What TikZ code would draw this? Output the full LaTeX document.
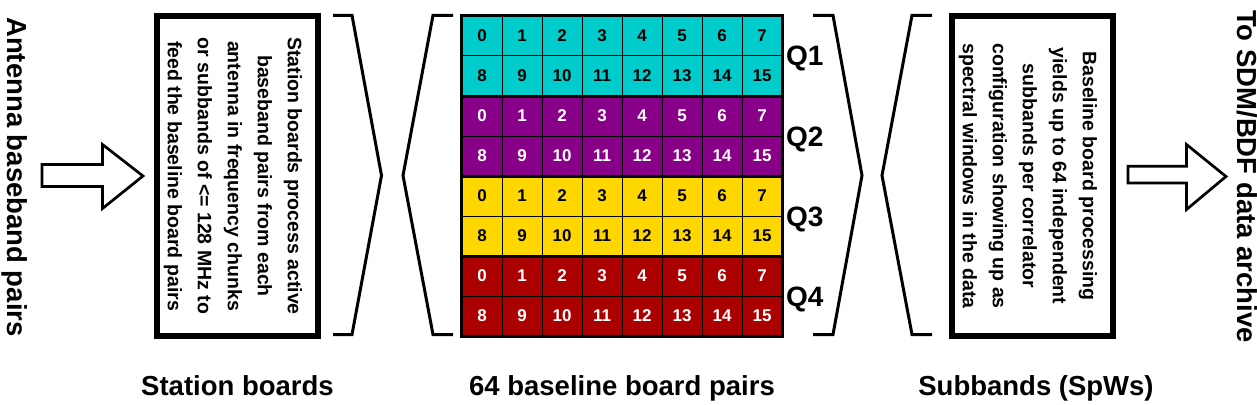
\documentclass[tikz,border=0pt]{standalone}
\usepackage{fontspec}
\setmainfont{Liberation Sans}
\definecolor{qcyan}{HTML}{00CCCC}
\definecolor{qpurple}{HTML}{880088}
\definecolor{qyellow}{HTML}{FFD700}
\definecolor{qred}{HTML}{AA0000}
\tikzset{
  cell/.style={draw=black, line width=1pt, minimum size=40pt, inner sep=0pt,
    font=\fontsize{17pt}{20pt}\selectfont\bfseries},
  brk/.style={draw=black, line width=3pt},
  blockarrow/.style={draw=black, line width=2.7pt, fill=white},
  biglabel/.style={inner sep=0pt, font=\fontsize{27.5pt}{32pt}\selectfont\bfseries},
  qlabel/.style={inner sep=0pt, font=\fontsize{28pt}{32pt}\selectfont\bfseries},
  boxtext/.style={inner sep=0pt, align=center, font=\fontsize{19.5pt}{30pt}\selectfont\bfseries},
  infobox/.style={draw=black, line width=6pt, minimum width=161pt, minimum height=320pt, inner sep=0pt},
  thick line/.style={draw=black, line width=3.5pt}
}
\begin{document}
\begin{tikzpicture}[x=1pt,y=-1pt]
\fill[white] (0,0) rectangle (1257,404);
\useasboundingbox (0,0) rectangle (1257,404);

% side labels
\node[biglabel, rotate=-90, anchor=base] (ant) at (7,177) {Antenna baseband pairs};
\node[biglabel, rotate=-90, anchor=base] (sdm) at (1237,176.5) {To SDM/BDF data archive};

% input arrow
\draw[blockarrow] (42,164.5) -- (102.5,164.5) -- (102.5,144.5) -- (143,176)
  -- (102.5,208.5) -- (102.5,186.5) -- (42,186.5) -- cycle;

% station box
\node[infobox] (sb) at (237.5,176) {};
\node[boxtext, rotate=-90] (sbt) at (233,176) {Station boards process active\\baseband pairs from each\\antenna in frequency chunks\\or subbands of <= 128 MHz to\\feed the baseline board pairs};

% brackets
\draw[brk] (333,15.3) -- (352,15.3) -- (381.5,175.5) -- (352,334.5) -- (333,334.5);
\draw[brk] (453,15.3) -- (433,15.3) -- (403,175.5) -- (433,334.5) -- (453,334.5);
\draw[brk] (813,15.3) -- (833,15.3) -- (862,175.5) -- (833,334.5) -- (813,334.5);
\draw[brk] (932,15.3) -- (912,15.3) -- (882,175.5) -- (912,334.5) -- (932,334.5);

% grid of baseline boards
\foreach \q/\col/\txt in {0/qcyan/black, 1/qpurple/white, 2/qyellow/black, 3/qred/white}{
  \foreach \r in {0,1}{
    \foreach \c in {0,...,7}{
      \pgfmathtruncatemacro{\n}{8*\r+\c}
      \node[cell, fill=\col, text=\txt] (c-\q-\r-\c) at ({482+40*\c},{36+80*\q+40*\r}) {\n};
    }
  }
}
\draw[thick line] (c-0-0-0.north west) rectangle (c-3-1-7.south east);
\draw[thick line] (c-0-1-0.south west) -- (c-0-1-7.south east);
\draw[thick line] (c-1-1-0.south west) -- (c-1-1-7.south east);
\draw[thick line] (c-2-1-0.south west) -- (c-2-1-7.south east);

% quadrant labels
\node[qlabel, anchor=base west] (q1) at (786,66) {Q1};
\node[qlabel, anchor=base west] (q2) at (786,146) {Q2};
\node[qlabel, anchor=base west] (q3) at (786,226) {Q3};
\node[qlabel, anchor=base west] (q4) at (786,306) {Q4};

% subbands box
\node[infobox] (spw) at (1032.5,176) {};
\node[boxtext, rotate=-90] (spwt) at (1028,176) {Baseline board processing\\yields up to 64 independent\\subbands per correlator\\configuration showing up as\\spectral windows in the data};

% output arrow
\draw[blockarrow] (1128,166.3) -- (1186.5,166.3) -- (1186.5,144.5) -- (1226,176.5)
  -- (1186.5,209.5) -- (1186.5,183) -- (1128,183) -- cycle;

% bottom labels
\node[biglabel, anchor=base] (l1) at (237.5,395.5) {Station boards};
\node[biglabel, anchor=base] (l2) at (622,395.5) {64 baseline board pairs};
\node[biglabel, anchor=base] (l3) at (1036,395.5) {Subbands (SpWs)};
\end{tikzpicture}
\end{document}
